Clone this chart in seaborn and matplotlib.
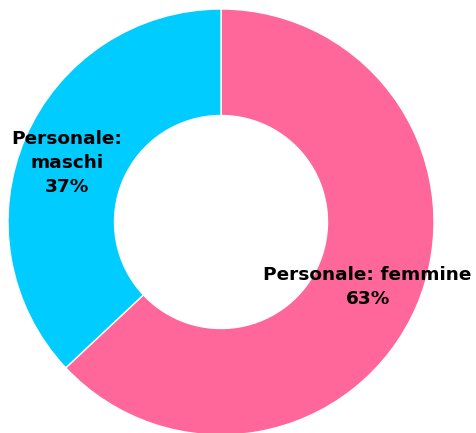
import numpy as np
import matplotlib
matplotlib.use("Agg")
import matplotlib.pyplot as plt
import seaborn as sns

# Dati
categorie = ["Personale: femmine", "Personale: maschi"]
valori = [63, 37]
etichette = ["Personale: femmine\n63%", "Personale:\nmaschi\n37%"]
colori = ["#FF6699", "#00CCFF"]

sns.set_style("white")
plt.rcParams['font.family'] = ['DejaVu Sans']

fig = plt.figure(figsize=(4.76, 4.33), dpi=100)
# assi posizionati perché il cerchio stia a (221, 222) px con raggio 213 px
ax = fig.add_axes([(221 - 213) / 476, (433 - 222 - 213) / 433, 426 / 476, 426 / 433])

wedges, _ = ax.pie(valori, colors=colori, startangle=90, counterclock=False,
                   radius=1, wedgeprops=dict(width=0.5, edgecolor="white", linewidth=1))

# etichette al centro degli spicchi
distanze = [0.75, 0.78]
spostamenti = [(0, -1), (-1, -5)]
for w, testo, d, sp in zip(wedges, etichette, distanze, spostamenti):
    ang = np.deg2rad((w.theta1 + w.theta2) / 2)
    ax.annotate(testo, (d * np.cos(ang), d * np.sin(ang)), xytext=sp,
                textcoords="offset points", ha="center", va="center",
                fontsize=13.3, fontweight="bold", color="black", linespacing=1.42)

ax.set_xlim(-1, 1)
ax.set_ylim(-1, 1)
ax.set_aspect("equal")
ax.axis("off")

fig.savefig("out.png", dpi=100)
